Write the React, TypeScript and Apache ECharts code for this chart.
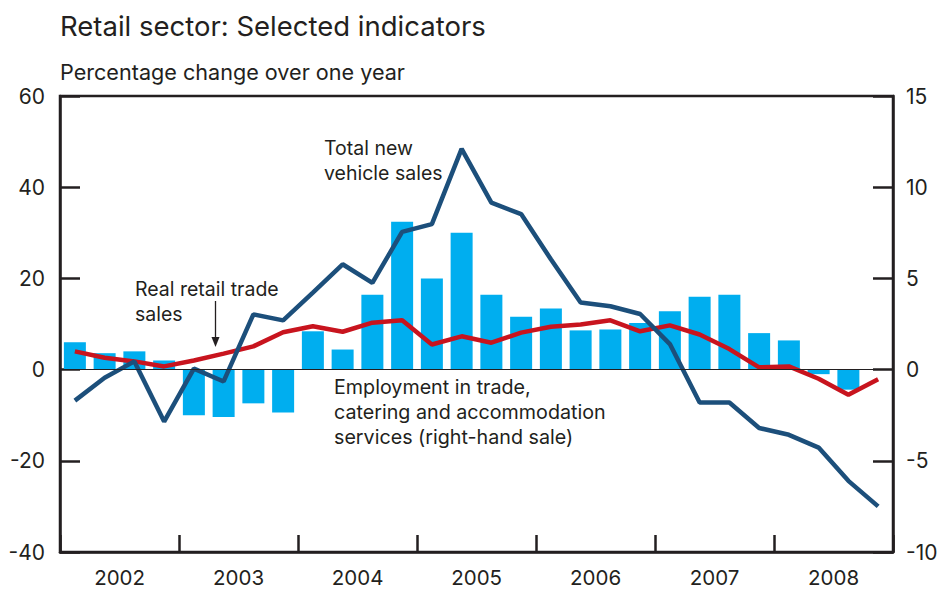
import React, { useEffect, useRef } from "react";
import * as echarts from "echarts";

const years = ["2002", "2003", "2004", "2005", "2006", "2007", "2008"];
const quarterNames = ["Q1", "Q2", "Q3", "Q4"];
const quarters = years.flatMap((y) => quarterNames.map((q) => `${y} ${q}`));

// Employment in trade, catering and accommodation services (right-hand scale, %)
const employment = [
  1.5, 0.9, 1.0, 0.5,
  -2.5, -2.6, -1.85, -2.35,
  2.1, 1.1, 4.1, 8.1,
  5.0, 7.5, 4.1, 2.9,
  3.35, 2.15, 2.2, 2.55,
  3.2, 4.0, 4.1, 2.0,
  1.6, -0.25, -1.1, 0,
];

// Real retail trade sales (left-hand scale, %)
const retailSales = [
  4.0, 2.6, 1.8, 0.7,
  2.0, 3.5, 5.1, 8.2,
  9.5, 8.3, 10.3, 10.8,
  5.5, 7.3, 5.9, 8.1,
  9.4, 9.9, 10.8, 8.4,
  9.7, 7.7, 4.5, 0.5,
  0.7, -2.0, -5.5, -2.1,
];

// Total new vehicle sales (left-hand scale, %)
const vehicleSales = [
  -6.8, -1.8, 1.8, -11.4,
  0.2, -2.6, 12.1, 10.8,
  16.9, 23.1, 19.0, 30.2,
  31.9, 48.4, 36.6, 34.1,
  24.2, 14.7, 13.9, 12.2,
  5.6, -7.2, -7.2, -12.8,
  -14.3, -17.1, -24.4, -30.0,
];

const leftTicks = { min: -40, max: 60, interval: 20 };
const rightTicks = { min: -10, max: 15, interval: 5 };

const FONT = "Inter, 'Liberation Sans', Arial, sans-serif";
const INK = "#231f20";

export default function App() {
  const ref = useRef<HTMLDivElement>(null);

  useEffect(() => {
    if (!ref.current) return;
    const chart = echarts.init(ref.current, null, { renderer: "svg" });

    const axisLine = { show: true, onZero: false, lineStyle: { color: INK, width: 2.5 } };
    const axisLabelBase = { color: INK, fontSize: 21, fontFamily: FONT };

    chart.setOption({
      animation: false,
      backgroundColor: "#ffffff",
      grid: {
        left: 60,
        right: 50,
        top: 96,
        bottom: 38,
        show: true,
        borderColor: INK,
        borderWidth: 2.5,
        backgroundColor: "transparent",
      },
      xAxis: {
        type: "category",
        data: quarters,
        boundaryGap: true,
        axisLine,
        axisTick: {
          show: true,
          inside: true,
          length: 17,
          interval: 3,
          lineStyle: { color: INK, width: 2.5 },
        },
        axisLabel: {
          ...axisLabelBase,
          fontSize: 20.5,
          interval: (i: number) => i % 4 === 1,
          formatter: (v: string) => v.slice(0, 4),
          padding: [0, 0, 0, 30],
          lineHeight: 18,
          margin: 16,
        },
        splitLine: { show: false },
      },
      yAxis: [
        {
          type: "value",
          position: "left",
          ...leftTicks,
          axisLine,
          axisTick: { show: true, inside: true, length: 20, lineStyle: { color: INK, width: 2.5 } },
          axisLabel: { ...axisLabelBase, margin: 15 },
          splitLine: { show: false },
        },
        {
          type: "value",
          position: "right",
          ...rightTicks,
          axisLine,
          axisTick: { show: true, inside: true, length: 20, lineStyle: { color: INK, width: 2.5 } },
          axisLabel: { ...axisLabelBase, margin: 13 },
          splitLine: { show: false },
        },
      ],
      series: [
        {
          name: "Employment in trade, catering and accommodation services",
          type: "bar",
          yAxisIndex: 1,
          data: employment,
          barWidth: 22,
          itemStyle: { color: "#00aeef" },
        },
        {
          name: "Real retail trade sales",
          type: "line",
          yAxisIndex: 0,
          data: retailSales,
          symbol: "none",
          lineStyle: { color: "#c8141e", width: 4.5 },
          markLine: {
            silent: true,
            symbol: "none",
            label: { show: false },
            lineStyle: { color: INK, width: 1.2, type: "solid" },
            data: [{ yAxis: 0 }],
          },
        },
        {
          name: "Total new vehicle sales",
          type: "line",
          yAxisIndex: 0,
          data: vehicleSales,
          symbol: "none",
          lineStyle: { color: "#1c4f7b", width: 4.5 },
        },
      ],
      graphic: [
        {
          type: "text",
          left: 60,
          top: 12,
          style: { text: "Retail sector: Selected indicators", fontSize: 27.5, fontFamily: FONT, fill: INK },
        },
        {
          type: "text",
          left: 60,
          top: 61,
          style: { text: "Percentage change over one year", fontSize: 21.6, fontFamily: FONT, fill: INK },
        },
        {
          type: "text",
          x: 324,
          y: 135,
          style: {
            text: "Total new\nvehicle sales",
            fontSize: 19.5,
            lineHeight: 25,
            fontFamily: FONT,
            fill: INK,
            verticalAlign: "top",
          },
        },
        {
          type: "text",
          x: 135,
          y: 276,
          style: {
            text: "Real retail trade\nsales",
            fontSize: 19.5,
            lineHeight: 25,
            fontFamily: FONT,
            fill: INK,
            verticalAlign: "top",
          },
        },
        {
          type: "text",
          x: 334,
          y: 374,
          style: {
            text: "Employment in trade,\ncatering and accommodation\nservices (right-hand sale)",
            fontSize: 19.7,
            lineHeight: 25,
            fontFamily: FONT,
            fill: INK,
            verticalAlign: "top",
          },
        },
        {
          type: "line",
          shape: { x1: 215.5, y1: 301, x2: 215.5, y2: 340 },
          style: { stroke: INK, lineWidth: 1.3 },
        },
        {
          type: "polygon",
          shape: { points: [[211.5, 337], [219.5, 337], [215.5, 347]] },
          style: { fill: INK },
        },
      ],
    });

    return () => chart.dispose();
  }, []);

  return (
    <div
      ref={ref}
      style={{ position: "absolute", left: 0, top: 0, width: 943, height: 590 }}
    />
  );
}
